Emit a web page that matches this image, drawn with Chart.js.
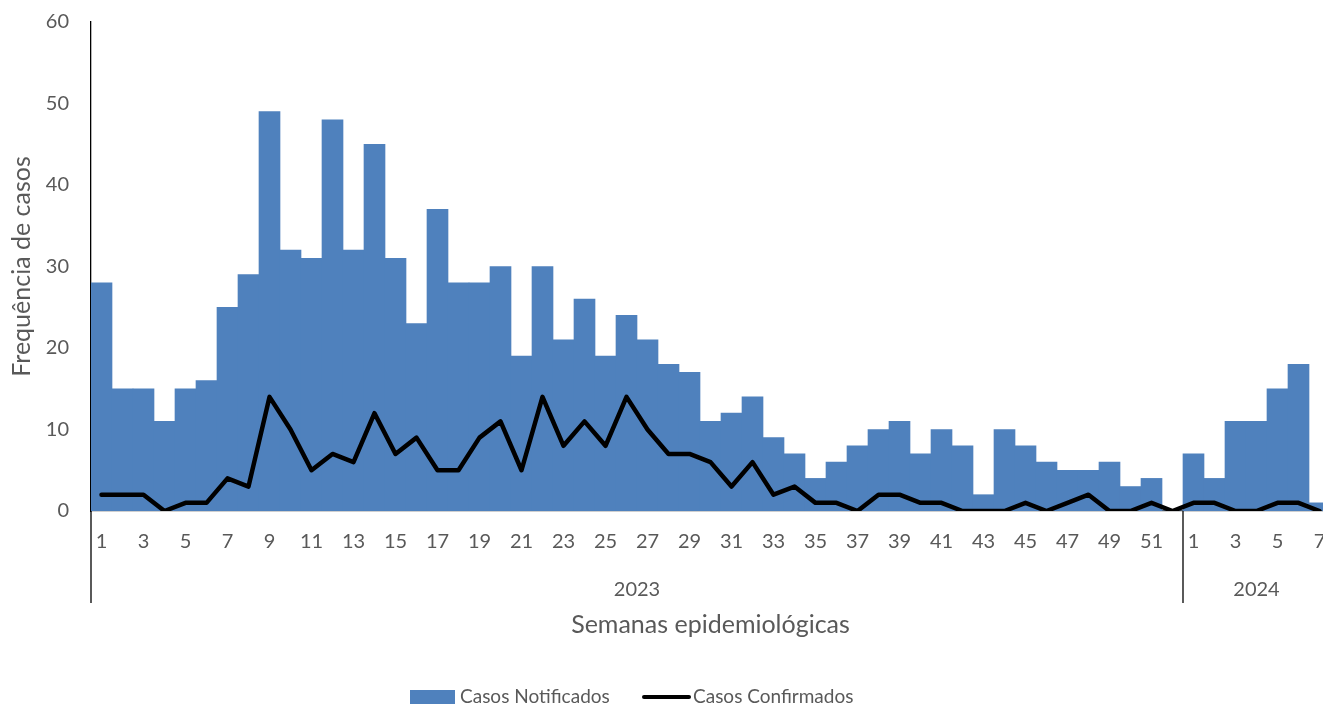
<!DOCTYPE html>
<html><head><meta charset="utf-8">
<script src="https://cdn.jsdelivr.net/npm/chart.js@4/dist/chart.umd.min.js"></script>
<style>html,body{margin:0;padding:0;overflow:hidden;background:#fff}#wrap{width:1345px;height:708px}</style>
</head><body><div id="wrap"><canvas id="c" width="1345" height="708"></canvas></div>
<script>
// ---- data ----
const weeks2023 = ['1','2','3','4','5','6','7','8','9','10','11','12','13','14','15','16','17','18','19','20','21','22','23','24','25','26','27','28','29','30','31','32','33','34','35','36','37','38','39','40','41','42','43','44','45','46','47','48','49','50','51','52'];
const weeks2024 = ['1','2','3','4','5','6','7'];
const years = ['2023','2024'];
const notified2023 = [28,15,15,11,15,16,25,29,49,32,31,48,32,45,31,23,37,28,28,30,19,30,21,26,19,24,21,18,17,11,12,14,9,7,4,6,8,10,11,7,10,8,2,10,8,6,5,5,6,3,4,0];
const notified2024 = [7,4,11,11,15,18,1];
const confirmed2023 = [2,2,2,0,1,1,4,3,14,10,5,7,6,12,7,9,5,5,9,11,5,14,8,11,8,14,10,7,7,6,3,6,2,3,1,1,0,2,2,1,1,0,0,0,1,0,1,2,0,0,1,0];
const confirmed2024 = [1,1,0,0,1,1,0];
const yTicks = [0,10,20,30,40,50,60];

const labels = weeks2023.concat(weeks2024);
const notified = notified2023.concat(notified2024);
const confirmed = confirmed2023.concat(confirmed2024);
const groupSizes = [weeks2023.length, weeks2024.length];

const FONT = 'Lato';
const TXT = '#595959';

const extras = {
  id: 'extras',
  afterDraw(chart) {
    const ctx = chart.ctx, xs = chart.scales.x, ca = chart.chartArea;
    const bottomY = 603;
    ctx.save();
    ctx.strokeStyle = '#000';
    ctx.lineWidth = 1.3;
    ctx.beginPath(); ctx.moveTo(ca.left, ca.bottom); ctx.lineTo(ca.left, bottomY); ctx.stroke();
    let start = 0;
    ctx.fillStyle = TXT;
    ctx.font = '20px ' + FONT;
    ctx.textAlign = 'center'; ctx.textBaseline = 'middle';
    groupSizes.forEach((n, g) => {
      const end = start + n - 1;
      const half = (xs.getPixelForValue(1) - xs.getPixelForValue(0)) / 2;
      const x0 = xs.getPixelForValue(start) - half;
      const x1 = xs.getPixelForValue(end) + half;
      if (g > 0) { ctx.beginPath(); ctx.moveTo(x0, ca.bottom); ctx.lineTo(x0, bottomY); ctx.stroke(); }
      ctx.fillText(years[g], (x0 + x1) / 2, 590);
      start += n;
    });
    // legend
    const ly = 697;
    ctx.font = '19px ' + FONT;
    ctx.fillStyle = '#4F81BD';
    ctx.fillRect(410, ly - 7, 45, 14);
    ctx.fillStyle = TXT; ctx.textAlign = 'left';
    ctx.fillText(chart.data.datasets[1].label, 460, ly);
    ctx.strokeStyle = '#000'; ctx.lineWidth = 4; ctx.lineCap = 'round';
    ctx.beginPath(); ctx.moveTo(644, ly); ctx.lineTo(689, ly); ctx.stroke();
    ctx.fillText(chart.data.datasets[0].label, 693, ly);
    ctx.restore();
  }
};

new Chart(document.getElementById('c'), {
  data: {
    labels,
    datasets: [
      { type: 'line', label: 'Casos Confirmados', data: confirmed, borderColor: '#000', borderWidth: 4.5,
        pointRadius: 0, tension: 0, order: 0, borderJoinStyle: 'round', borderCapStyle: 'round' },
      { type: 'bar', label: 'Casos Notificados', data: notified, backgroundColor: '#4F81BD',
        barPercentage: 1, categoryPercentage: 1, order: 1 }
    ]
  },
  options: {
    responsive: false,
    animation: false,
    devicePixelRatio: 1,
    layout: { padding: { top: 22, right: 15, left: 0, bottom: 68 } },
    plugins: { legend: { display: false }, tooltip: { enabled: false } },
    scales: {
      x: {
        grid: { display: false, drawTicks: false },
        border: { display: true, color: '#404040', width: 1.3 },
        ticks: { autoSkip: false, maxRotation: 0, color: TXT, font: { family: FONT, size: 20 }, padding: 19,
          callback: (v, i) => (i % 2 === 0 ? labels[i] : '') },
        title: { display: true, text: 'Semanas epidemiológicas', color: TXT, font: { family: FONT, size: 25 }, padding: { top: 0, bottom: 0 } },
        afterFit: s => { s.height = 129; s.paddingLeft = 0; s.paddingRight = 0; }
      },
      y: {
        min: 0, max: 60,
        afterBuildTicks: s => { s.ticks = yTicks.map(v => ({ value: v })); },
        grid: { display: false, drawTicks: false },
        border: { display: true, color: '#000', width: 1.3 },
        ticks: { color: TXT, font: { family: FONT, size: 20 }, padding: 22 },
        title: { display: true, text: 'Frequência de casos', color: TXT, font: { family: FONT, size: 25 }, padding: { top: 7, bottom: 0 } },
        afterFit: s => { s.width = 91; s.paddingTop = 0; s.paddingBottom = 0; }
      }
    }
  },
  plugins: [extras]
});
</script></body></html>
